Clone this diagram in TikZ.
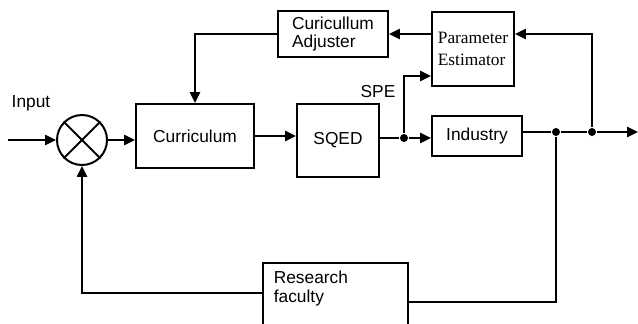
\documentclass[tikz,border=0pt]{standalone}
\usepackage{fontspec}
\setmainfont{Liberation Sans}
\newfontfamily\estfont{Liberation Serif}
\usetikzlibrary{arrows.meta,calc}

\begin{document}
\begin{tikzpicture}[x=0.6pt,y=-0.6pt,line width=1.2pt,
  font=\fontsize{10.4}{11}\selectfont,
  block/.style={draw,rectangle,inner sep=0pt,align=left},
  arr/.style={-{Triangle[length=6.5pt,width=6pt]}},
  dot/.style={circle,fill,inner sep=0pt,minimum size=4.8pt}]
  \useasboundingbox (0,0) rectangle (638,323);
  \clip (0,0) rectangle (638,323);
  \node[draw,circle,minimum size=30pt,inner sep=0pt] (sum) at (82,140) {};
  \node[block,minimum width=70.8pt,minimum height=38.4pt] (cur) at (195,136) {Curriculum};
  \node[block,minimum width=49.2pt,minimum height=43.8pt] (sqed) at (338,140) {SQED};
  \node[block,minimum width=54pt,minimum height=24pt] (ind) at (477,136) {Industry};
  \node[block,minimum width=49.2pt,minimum height=44.4pt,
    font=\estfont\fontsize{10.4}{13.5}\selectfont] (pe) at (473,49) {Parameter\\Estimator};
  \node[block,minimum width=66pt,minimum height=27.6pt] (ca) at (333,34) {Curicullum\\Adjuster};
  \node[block,anchor=north west,text width=74pt,inner xsep=6.5pt,inner ysep=5pt,
    text depth=25pt] (rf) at (262,262) {Research\\faculty};
  \node (inlbl) at (31,103) {Input};
  \node (spelbl) at (378,92) {SPE};
  \coordinate (in) at (8,140);
  \coordinate (out) at (638,132);
  \node[dot] (spe) at (404,138) {};
  \node[dot] (fb1) at (556,132) {};
  \node[dot] (fb2) at (592,132) {};
  \draw (sum.45) -- (sum.225) (sum.135) -- (sum.-45);
  \draw[arr] (in) -- (sum.west);
  \draw[arr] (sum.east) -- (sum.east -| cur.west);
  \draw[arr] (cur.east) -- (cur.east -| sqed.west);
  \draw (sqed.east |- spe) -- (spe);
  \draw[arr] (spe) -- (spe -| ind.west);
  \draw[arr] (spe) |- ($(pe.west)+(0,27)$);
  \draw (ind.east |- fb1) -- (fb1) -- (fb2);
  \draw[arr] (fb2) -- (out);
  \draw[arr] (fb2) |- (pe.east |- ca);
  \draw[arr] (pe.west |- ca) -- (ca.east);
  \draw[arr] (ca.west) -| (cur.north);
  \draw (fb1) |- ($(rf.north east)+(0,40)$);
  \draw[arr] ($(rf.north west)+(0,31)$) -| (sum.south);
\end{tikzpicture}
\end{document}
